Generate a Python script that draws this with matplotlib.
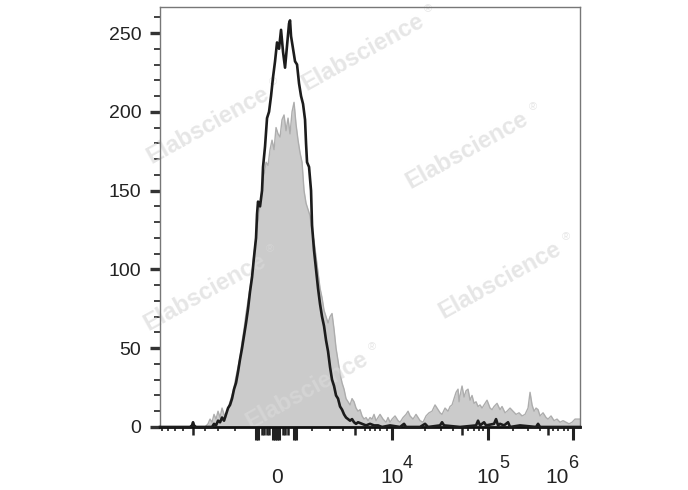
import matplotlib
matplotlib.use("Agg")
import matplotlib.pyplot as plt
import matplotlib.transforms as mtransforms

plt.rcParams['font.family'] = ['Liberation Sans', 'DejaVu Sans']

# gray filled histogram (channel, events)
gray_ch = [0, 45, 48, 50, 52, 54, 56, 58, 60, 62, 64, 66, 68, 70, 72, 74, 76, 78, 80, 82,
           84, 86, 88, 90, 92, 94, 96, 98, 100, 102, 104, 106, 108, 110, 112, 114, 116, 118,
           120, 122, 124, 126, 128, 130, 132, 134, 136, 138, 140, 142, 144, 146, 148, 150,
           152, 154, 156, 158, 160, 162, 164, 166, 168, 170, 172, 174, 176, 178, 180, 182,
           184, 186, 188, 190, 192, 194, 196, 198, 200, 202, 204, 206, 208, 210, 212, 214,
           216, 218, 220, 223, 226, 228, 230, 232, 235, 238, 240, 243, 246, 248, 250, 253,
           256, 258, 260, 263, 266, 269, 272, 275, 277, 280, 282, 285, 288, 290, 292, 294,
           296, 298, 299, 300, 302, 304, 306, 308, 310, 312, 314, 316, 318, 320, 322, 325,
           327, 330, 332, 334, 337, 340, 342, 345, 347, 350, 353, 356, 359, 362, 365, 368,
           370, 372, 374, 376, 378, 380, 383, 386, 388, 391, 394, 397, 400, 403, 406, 409,
           412, 415, 418, 420]
gray_counts = [0, 0, 2, 5, 3, 8, 5, 10, 6, 12, 8, 6, 12, 16, 20, 25, 32, 38, 44, 54,
               62, 72, 80, 88, 98, 110, 120, 130, 142, 150, 160, 168, 166, 176, 182, 176, 190, 186,
               184, 195, 198, 188, 196, 186, 200, 206, 192, 182, 174, 168, 150, 142, 138, 134,
               124, 118, 108, 98, 88, 82, 74, 70, 66, 70, 72, 62, 50, 42, 34, 28,
               24, 18, 16, 14, 18, 16, 12, 10, 11, 7, 5, 6, 4, 6, 5, 8,
               4, 6, 8, 5, 3, 6, 3, 5, 7, 4, 3, 6, 8, 10, 7, 5,
               8, 6, 4, 3, 7, 9, 10, 14, 12, 9, 8, 12, 10, 13, 14, 18,
               22, 24, 16, 20, 26, 19, 23, 24, 17, 20, 15, 16, 13, 14, 12, 15,
               17, 12, 11, 13, 15, 11, 13, 9, 10, 12, 10, 8, 9, 7, 8, 12,
               22, 14, 10, 12, 11, 7, 9, 6, 5, 7, 4, 5, 3, 4, 3, 2,
               3, 5, 5, 5]

# black outline histogram (channel, events)
black_ch = [0, 30, 32, 33, 34, 36, 52, 54, 56, 58, 60, 62, 64, 66, 68, 70, 72, 74, 76, 78,
            80, 82, 84, 86, 88, 90, 92, 94, 96, 97, 98, 100, 102, 103, 105, 107, 109, 111,
            113, 115, 117, 119, 121, 123, 125, 127, 129, 130, 131, 133, 135, 137, 139, 141,
            143, 145, 146, 147, 149, 151, 152, 154, 156, 158, 160, 162, 164, 166, 168, 170,
            172, 174, 176, 178, 180, 182, 184, 186, 188, 190, 192, 194, 196, 198, 202, 206,
            210, 214, 218, 222, 230, 240, 244, 246, 260, 265, 268, 280, 282, 284, 300, 316,
            318, 320, 324, 326, 334, 336, 338, 340, 344, 348, 350, 360, 376, 378, 380, 420]
black_counts = [0, 0, 1, 3, 1, 0, 0, 2, 1, 4, 3, 6, 4, 8, 12, 14, 18, 24, 28, 35,
                43, 50, 58, 66, 75, 86, 95, 108, 120, 135, 143, 140, 150, 165, 178, 196, 200, 210,
                222, 232, 244, 240, 252, 238, 228, 242, 256, 258, 248, 240, 232, 230, 218, 210,
                205, 195, 180, 168, 165, 150, 128, 112, 100, 88, 78, 70, 64, 55, 48, 38,
                30, 26, 20, 18, 13, 11, 8, 6, 5, 4, 5, 3, 2, 3, 2, 1,
                2, 1, 1, 0, 1, 0, 2, 0, 0, 2, 0, 1, 3, 1, 0, 1,
                4, 1, 3, 1, 2, 5, 1, 2, 1, 3, 0, 1, 0, 2, 0, 0]

y_major = [0, 50, 100, 150, 200, 250]
y_minor = list(range(0, 261, 10))

# axis ticks (channel positions)
x_long = [96, 98, 113, 115, 117, 119, 134, 136, 232, 328, 413]
x_medium = [33, 102, 104, 107, 109, 123, 125, 128, 195, 302, 388]
x_short = [2, 8, 15, 23, 45, 58, 75, 152, 170, 183, 205, 210, 215, 220, 227,
           265, 281, 293, 308, 314, 319, 323, 353, 368, 380, 393, 398, 404, 408]

x_labels = ['0', '10', '10', '10']
x_exponents = ['', '4', '5', '6']
x_label_pos = [117, 232, 328, 397]

watermarks = [(0.527, 0.894), (0.302, 0.745), (0.679, 0.694),
              (0.727, 0.429), (0.298, 0.404), (0.446, 0.204)]

fig = plt.figure(figsize=(6.88, 4.90), dpi=100)
ax = fig.add_axes([0.2326, 0.1286, 0.6105, 0.8571])

ax.fill_between(gray_ch, gray_counts, 0, color='#cbcbcb', linewidth=0, zorder=1)
ax.plot(gray_ch, gray_counts, color='#adadad', linewidth=1.0, zorder=1.5)

for wx, wy in watermarks:
    ax.text(wx, wy, 'Elabscience', transform=fig.transFigure, rotation=29,
            ha='center', va='center', fontsize=17, fontweight='bold',
            color='#d9d9d9', alpha=0.65, zorder=2)
    ax.text(wx + 0.095, wy + 0.088, '®', transform=fig.transFigure,
            ha='center', va='center', fontsize=8,
            color='#d9d9d9', alpha=0.65, zorder=2)

ax.plot(black_ch, black_counts, color='#1c1c1c', linewidth=1.9, zorder=3,
        clip_on=False)

ax.set_xlim(0, 420)
ax.set_ylim(0, 266.5)

for side in ['left', 'top', 'right']:
    ax.spines[side].set_color('#777777')
    ax.spines[side].set_linewidth(1.0)
ax.spines['bottom'].set_color('#111111')
ax.spines['bottom'].set_linewidth(2.0)

ax.set_yticks(y_major)
ax.set_yticks(y_minor, minor=True)
ax.tick_params(axis='y', which='major', length=7.5, width=2.4, color='#333333',
               labelsize=14, pad=6, labelcolor='#222222')
ax.tick_params(axis='y', which='minor', length=4, width=1.3, color='#333333')

ax.set_xticks(x_long)
ax.set_xticks(x_short, minor=True)
ax.tick_params(axis='x', which='major', length=9, width=2.2, color='#222222',
               labelbottom=False)
ax.tick_params(axis='x', which='minor', length=3.2, width=1.2, color='#222222')

sec = ax.secondary_xaxis('bottom')
sec.set_xticks(x_medium)
sec.tick_params(axis='x', length=6, width=1.8, color='#222222', labelbottom=False)
sec.spines['bottom'].set_visible(False)

trans = mtransforms.blended_transform_factory(ax.transData, ax.transAxes)
for pos, lab, ex in zip(x_label_pos, x_labels, x_exponents):
    ax.text(pos, -0.133, lab, transform=trans, ha='center', va='baseline',
            fontsize=15, color='#222222')
    if ex:
        ax.text(pos + 11, -0.098, ex, transform=trans, ha='left', va='baseline',
                fontsize=13, color='#222222')

fig.savefig('out.png', dpi=100)
